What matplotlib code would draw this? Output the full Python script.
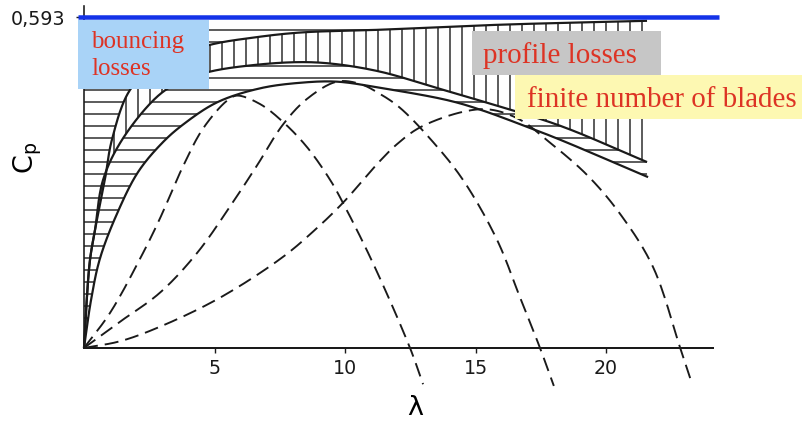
import numpy as np
import matplotlib
matplotlib.use("Agg")
import matplotlib.pyplot as plt
from matplotlib.patches import Rectangle

# --- data -------------------------------------------------------------
cp_betz = 0.593

# ideal rotor with swirl losses
lam_swirl = [0.0, 0.08, 0.23, 0.42, 0.80, 1.07, 1.76, 2.91, 4.83, 6.50, 8.28, 11.34, 15.94, 21.57]
cp_swirl = [0.0, 0.068, 0.158, 0.211, 0.301, 0.373, 0.462, 0.513, 0.543, 0.556, 0.565, 0.570, 0.579, 0.586]

# including profile losses
lam_profile = [0.0, 0.08, 0.23, 0.42, 0.73, 1.46, 2.80, 3.68, 4.83, 6.55, 8.28, 9.54, 11.34, 13.64, 15.17, 18.24, 21.57]
cp_profile = [0.0, 0.068, 0.158, 0.211, 0.301, 0.373, 0.450, 0.477, 0.495, 0.507, 0.512, 0.509, 0.495, 0.464, 0.443, 0.398, 0.333]

# including tip losses (finite number of blades)
lam_blades = [0.0, 0.27, 0.61, 1.26, 2.07, 2.99, 3.79, 5.10, 6.74, 8.28, 9.69, 11.34, 13.91, 15.17, 17.09, 18.24, 21.61]
cp_blades = [0.0, 0.086, 0.160, 0.240, 0.315, 0.367, 0.400, 0.440, 0.465, 0.475, 0.477, 0.466, 0.444, 0.427, 0.394, 0.373, 0.306]

# individual rotor characteristics
lam_r1 = [0.0, 1.00, 2.26, 2.91, 3.79, 4.56, 5.48, 5.86, 6.74, 7.62, 8.54, 9.43, 9.92, 11.07, 12.49, 12.99]
cp_r1 = [0.0, 0.063, 0.170, 0.232, 0.325, 0.393, 0.443, 0.452, 0.437, 0.405, 0.360, 0.301, 0.260, 0.152, 0.0, -0.065]

lam_r2 = [0.0, 1.38, 2.91, 4.33, 5.59, 6.63, 7.62, 8.54, 9.69, 10.57, 11.34, 12.11, 13.37, 14.52, 15.82, 16.70, 17.47, 18.00]
cp_r2 = [0.0, 0.047, 0.099, 0.170, 0.253, 0.327, 0.400, 0.446, 0.477, 0.473, 0.455, 0.430, 0.369, 0.301, 0.194, 0.091, 0.0, -0.068]

lam_r3 = [0.0, 1.38, 2.91, 5.21, 7.62, 8.93, 9.92, 11.34, 11.99, 12.87, 14.52, 15.56, 16.70, 17.74, 19.27, 20.54, 21.80, 22.84, 23.30]
cp_r3 = [0.0, 0.012, 0.038, 0.090, 0.163, 0.215, 0.260, 0.335, 0.365, 0.395, 0.423, 0.427, 0.409, 0.372, 0.310, 0.240, 0.145, 0.0, -0.065]

x_ticks = [5, 10, 15, 20]
x_tick_labels = ["5", "10", "15", "20"]
y_tick_label = "0,593"

label_profile = "profile losses"
label_blades = "finite number of blades"

# --- figure -----------------------------------------------------------
plt.rcParams["hatch.linewidth"] = 1.5
plt.rcParams["lines.scale_dashes"] = False

W, H = 802, 426
fig = plt.figure(figsize=(11.14, 5.92), dpi=72)
ax = fig.add_axes([0, 0, 1, 1])
ax.set_xlim(-3.218, 27.51)
ax.set_ylim(-0.1398, 0.6237)
ax.patch.set_alpha(0)

# display scale of the data units (pixels per unit), used for smooth drawing
SX, SY = 26.1, 558.0


def smooth(lam, cp, n=24):
    """Centripetal Catmull-Rom path through the given points (for drawing)."""
    P = np.column_stack([np.asarray(lam) * SX, np.asarray(cp) * SY])
    P = np.vstack([2 * P[0] - P[1], P, 2 * P[-1] - P[-2]])
    out = []
    for i in range(1, len(P) - 2):
        p0, p1, p2, p3 = P[i - 1], P[i], P[i + 1], P[i + 2]
        t0 = 0.0
        t1 = t0 + np.linalg.norm(p1 - p0) ** 0.5
        t2 = t1 + np.linalg.norm(p2 - p1) ** 0.5
        t3 = t2 + np.linalg.norm(p3 - p2) ** 0.5
        t = np.linspace(t1, t2, n, endpoint=False)[:, None]
        a1 = (t1 - t) / (t1 - t0) * p0 + (t - t0) / (t1 - t0) * p1
        a2 = (t2 - t) / (t2 - t1) * p1 + (t - t1) / (t2 - t1) * p2
        a3 = (t3 - t) / (t3 - t2) * p2 + (t - t2) / (t3 - t2) * p3
        b1 = (t2 - t) / (t2 - t0) * a1 + (t - t0) / (t2 - t0) * a2
        b2 = (t3 - t) / (t3 - t1) * a2 + (t - t1) / (t3 - t1) * a3
        c = (t2 - t) / (t2 - t1) * b1 + (t - t1) / (t2 - t1) * b2
        out.append(c)
    out.append(P[-2][None, :])
    out = np.vstack(out)
    return out[:, 0] / SX, out[:, 1] / SY


def fx(px):
    return px / W


def fy(py):
    return 1 - py / H


ink = "#1a1a1a"
hatch_ink = "#2a2a2a"

sw_l, sw_c = smooth(lam_swirl, cp_swirl)
pr_l, pr_c = smooth(lam_profile, cp_profile)
bl_l, bl_c = smooth(lam_blades, cp_blades)

# hatched loss regions
grid = np.linspace(0, 21.57, 1200)
s_g = np.interp(grid, sw_l, sw_c)
p_g = np.interp(grid, pr_l, pr_c)
c_g = np.interp(grid, bl_l, bl_c)

ax.fill_between(grid, s_g, cp_betz, facecolor="none", edgecolor=hatch_ink,
                hatch="-", linewidth=0, zorder=1)
ax.fill_between(grid, c_g, p_g, facecolor="none", edgecolor=hatch_ink,
                hatch="-", linewidth=0, zorder=1)
ax.fill_between(grid, p_g, s_g, facecolor="none", edgecolor=hatch_ink,
                hatch="|", linewidth=0, zorder=1)

# envelope curves
for lam, cp in [(sw_l, sw_c), (pr_l, pr_c), (bl_l, bl_c)]:
    ax.plot(lam, cp, color=ink, lw=2.2, solid_capstyle="butt", zorder=3)

# rotor curves
for lam, cp in [(lam_r1, cp_r1), (lam_r2, cp_r2), (lam_r3, cp_r3)]:
    sl, sc = smooth(lam, cp)
    ax.plot(sl, sc, color=ink, lw=1.9, dashes=(14, 7), clip_on=False, zorder=3)

# Betz limit
ax.plot([-0.23, 24.33], [cp_betz, cp_betz], color="#1433e8", lw=4.5,
        solid_capstyle="butt", zorder=4)

# axes
for side in ("top", "right"):
    ax.spines[side].set_visible(False)
ax.spines["left"].set_position(("data", 0))
ax.spines["bottom"].set_position(("data", 0))
ax.spines["left"].set_bounds(0, 0.613)
ax.spines["bottom"].set_bounds(0, 24.1)
ax.spines["left"].set_linewidth(1.6)
ax.spines["bottom"].set_linewidth(2.0)
ax.spines["left"].set_color(ink)
ax.spines["bottom"].set_color(ink)
ax.spines["left"].set_zorder(2)

ax.set_xticks(x_ticks)
ax.set_xticklabels(x_tick_labels, family="DejaVu Sans", fontsize=19)
ax.set_yticks([cp_betz])
ax.set_yticklabels([y_tick_label], family="DejaVu Sans", fontsize=19)
ax.tick_params(axis="x", direction="out", length=5, width=1.4, pad=6, colors=ink)
ax.tick_params(axis="y", direction="out", length=8, width=1.4, pad=11, colors=ink)

# axis titles
ax.text(fx(28), fy(158), r"C$_\mathregular{p}$", rotation=90, transform=ax.transAxes,
        ha="center", va="center", fontsize=27, family="DejaVu Sans", color="black")
ax.text(fx(415), fy(408), "λ", transform=ax.transAxes, ha="center", va="center",
        fontsize=27, family="DejaVu Sans", color="black")

# annotation boxes
red = "#dd3324"
serif = "Liberation Serif"
boxes = [
    ((78, 20, 209, 89), "#a9d3f7"),
    ((472, 31, 661, 75), "#c6c6c6"),
    ((515, 75, 802, 119), "#fdf8b2"),
]
for (x0, y0, x1, y1), col in boxes:
    ax.add_patch(Rectangle((fx(x0), fy(y1)), fx(x1) - fx(x0), (y1 - y0) / H,
                           transform=ax.transAxes, facecolor=col, edgecolor="none",
                           zorder=5, clip_on=False))

ax.text(fx(91), fy(48), "bouncing", transform=ax.transAxes, ha="left", va="baseline",
        fontsize=25, family=serif, color=red, zorder=6)
ax.text(fx(91), fy(75), "losses", transform=ax.transAxes, ha="left", va="baseline",
        fontsize=25, family=serif, color=red, zorder=6)
ax.text(fx(483), fy(63), label_profile, transform=ax.transAxes, ha="left", va="baseline",
        fontsize=29, family=serif, color=red, zorder=6)
ax.text(fx(527), fy(107), label_blades, transform=ax.transAxes, ha="left", va="baseline",
        fontsize=29, family=serif, color=red, zorder=6)

fig.savefig("out.png", dpi=72, facecolor="white")
